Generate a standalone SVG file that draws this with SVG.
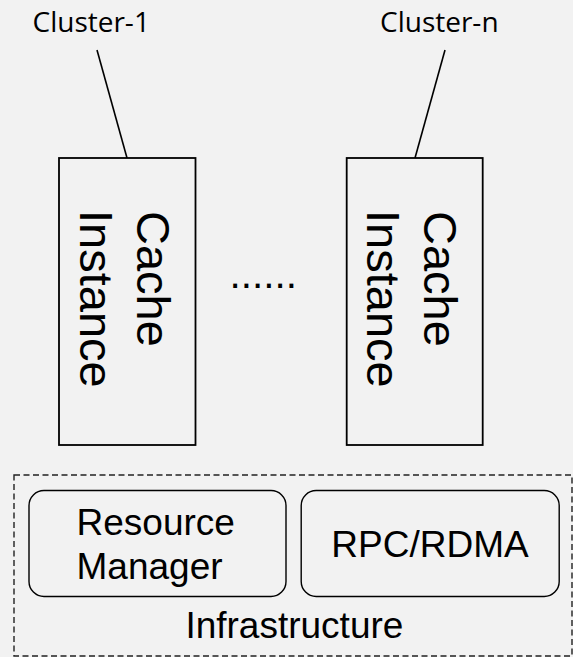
<svg xmlns="http://www.w3.org/2000/svg" width="573" height="657" viewBox="0 0 573 657">
  <style>
    .bg { fill: #f2f2f2; }
    .box { fill: #f2f2f2; stroke: #000; stroke-width: 1.8; }
    .rbox { fill: #f2f2f2; stroke: #000; stroke-width: 1.4; }
    .dash { fill: none; stroke: #222; stroke-width: 1.4; stroke-dasharray: 6 3.5; }
    .link { stroke: #000; stroke-width: 1.6; fill: none; }
    .cl { font-family: "Open Sans", "Liberation Sans", sans-serif; font-size: 28px; fill: #000; }
    .big { font-family: "Liberation Sans", Arial, sans-serif; font-size: 47px; fill: #000; }
    .lbl { font-family: "Liberation Sans", Arial, sans-serif; font-size: 37px; fill: #000; }
  </style>
  <rect class="bg" x="0" y="0" width="573" height="657"/>

  <!-- connectors from cluster labels to cache instances -->
  <g id="connectors">
    <line class="link" x1="97" y1="50" x2="127" y2="158"/>
    <line class="link" x1="445" y1="50" x2="415" y2="158"/>
  </g>

  <g id="cluster-1-label">
    <text class="cl" x="32.5" y="31.7">Cluster-1</text>
  </g>
  <g id="cluster-n-label">
    <text class="cl" x="380" y="31.7">Cluster-n</text>
  </g>

  <!-- cache instance 1 -->
  <g id="cache-instance-1">
    <rect class="box" x="59" y="158" width="136.5" height="287"/>
    <text class="big" transform="translate(137,211) rotate(90)">Cache</text>
    <text class="big" transform="translate(79.5,210) rotate(90)">Instance</text>
  </g>

  <!-- ellipsis between instances -->
  <g id="ellipsis">
    <text class="big" x="229.5" y="288" style="font-size:40.5px">......</text>
  </g>

  <!-- cache instance n -->
  <g id="cache-instance-n">
    <rect class="box" x="346.7" y="158" width="136" height="287"/>
    <text class="big" transform="translate(424.3,211) rotate(90)">Cache</text>
    <text class="big" transform="translate(367.3,210) rotate(90)">Instance</text>
  </g>

  <!-- infrastructure layer -->
  <g id="infrastructure">
    <rect class="dash" x="14" y="475" width="558" height="181"/>
    <text class="lbl" x="294.4" y="638.3" text-anchor="middle">Infrastructure</text>
  </g>

  <g id="resource-manager">
    <rect class="rbox" x="29" y="490.5" width="257" height="106" rx="15" ry="15"/>
    <text class="lbl" x="76.5" y="535">Resource</text>
    <text class="lbl" x="76.5" y="579.3">Manager</text>
  </g>

  <g id="rpc-rdma">
    <rect class="rbox" x="301.2" y="490.5" width="258" height="106" rx="15" ry="15"/>
    <text class="lbl" x="430" y="557.3" text-anchor="middle">RPC/RDMA</text>
  </g>
</svg>
